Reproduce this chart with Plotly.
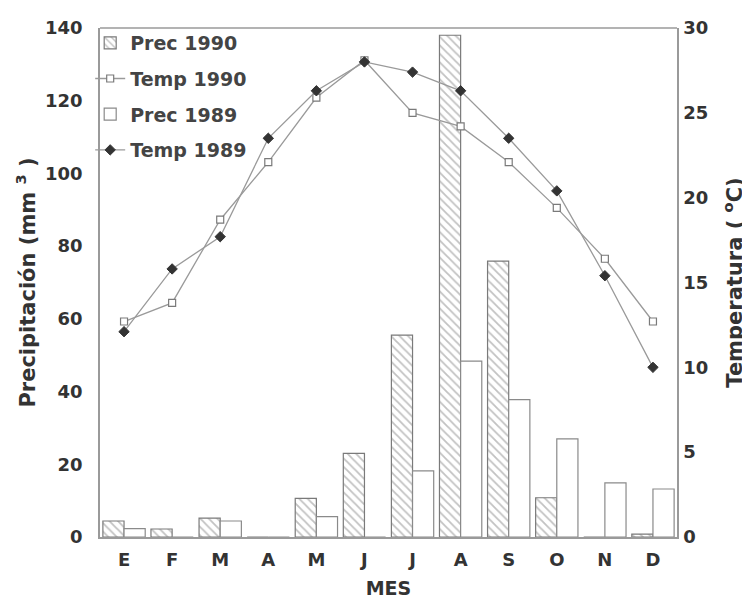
import plotly.graph_objects as go

months = ["E", "F", "M", "A", "M", "J", "J", "A", "S", "O", "N", "D"]
prec_1990 = [4.4, 2.2, 5.2, 0, 10.6, 23.0, 55.5, 138.0, 75.9, 10.8, 0, 0.8]
prec_1989 = [2.3, 0, 4.4, 0, 5.6, 0, 18.2, 48.4, 37.8, 27.0, 14.9, 13.2]
temp_1990 = [12.7, 13.8, 18.7, 22.1, 25.9, 28.1, 25.0, 24.2, 22.1, 19.4, 16.4, 12.7]
temp_1989 = [12.1, 15.8, 17.7, 23.5, 26.3, 28.0, 27.4, 26.3, 23.5, 20.4, 15.4, 10.0]
y_left_ticks = [0, 20, 40, 60, 80, 100, 120, 140]
y_right_ticks = [0, 5, 10, 15, 20, 25, 30]

x = list(range(len(months)))
FONT = "DejaVu Sans"
TXT = "#333333"
AX = "#9a9a9a"
TICKF = dict(family=FONT, size=18, color=TXT, weight="bold")
TITLEF = dict(family=FONT, size=21, color=TXT, weight="bold")

fig = go.Figure()
fig.add_trace(go.Bar(
    x=x, y=prec_1990, name="Prec 1990", legendgroup="a",
    marker=dict(color="white", line=dict(color="#7a7a7a", width=1.2),
                pattern=dict(shape="\\", fgcolor="#858585", bgcolor="white",
                             size=6, solidity=0.3)),
))
fig.add_trace(go.Scatter(
    x=x, y=temp_1990, name="Temp 1990", yaxis="y2", mode="lines+markers",
    legendgroup="b",
    line=dict(color="#9a9a9a", width=1.3),
    marker=dict(symbol="square", size=7, color="white",
                line=dict(color="#7a7a7a", width=1.2)),
))
fig.add_trace(go.Bar(
    x=x, y=prec_1989, name="Prec 1989", legendgroup="c",
    marker=dict(color="white", line=dict(color="#8a8a8a", width=1.2)),
))
fig.add_trace(go.Scatter(
    x=x, y=temp_1989, name="Temp 1989", yaxis="y2", mode="lines+markers",
    legendgroup="d",
    line=dict(color="#9a9a9a", width=1.3),
    marker=dict(symbol="diamond", size=8, color="#333333",
                line=dict(color="#333333", width=1)),
))

fig.update_layout(
    width=750, height=607,
    margin=dict(l=92, r=81, t=9, b=78),
    paper_bgcolor="white", plot_bgcolor="white",
    barmode="group", bargap=0.12, bargroupgap=0,
    font=dict(family=FONT, color=TXT, size=18),
    showlegend=True,
    legend=dict(x=-0.017, y=1.008, xanchor="left", yanchor="top",
                bgcolor="rgba(0,0,0,0)", traceorder="grouped",
                tracegroupgap=8, itemwidth=30,
                font=dict(family=FONT, size=19, color="#444444", weight="bold")),
    xaxis=dict(
        range=[-0.5, 11.5], tickmode="array", tickvals=x, ticktext=months,
        showline=True, linecolor=AX, linewidth=1.5, mirror=False,
        showgrid=False, zeroline=False, ticks="", ticklen=0,
        tickfont=TICKF, ticklabelstandoff=6,
        title=dict(text="MES", standoff=12,
                   font=dict(family=FONT, size=19, color=TXT, weight="bold")),
    ),
    yaxis=dict(
        range=[0, 140], tickmode="array", tickvals=y_left_ticks,
        showline=True, linecolor=AX, linewidth=1.5, showgrid=False,
        zeroline=False, ticks="", ticklen=0, ticklabelstandoff=12,
        ticklabeloverflow="allow",
        tickfont=TICKF,
        title=dict(text="Precipitación (mm <sup>3</sup> )", standoff=4,
                   font=TITLEF),
    ),
    yaxis2=dict(
        range=[0, 30], tickmode="array", tickvals=y_right_ticks,
        overlaying="y", side="right",
        showline=True, linecolor=AX, linewidth=1.5, showgrid=False,
        zeroline=False, ticks="", ticklen=0, ticklabelstandoff=1,
        ticklabeloverflow="allow",
        tickfont=TICKF,
        title=dict(text="Temperatura ( <sup>o</sup>C)", standoff=20,
                   font=TITLEF),
    ),
    shapes=[dict(type="line", xref="paper", yref="paper", x0=0, x1=1, y0=1, y1=1,
                 line=dict(color=AX, width=1.5))],
)

fig.write_html("out.html")
